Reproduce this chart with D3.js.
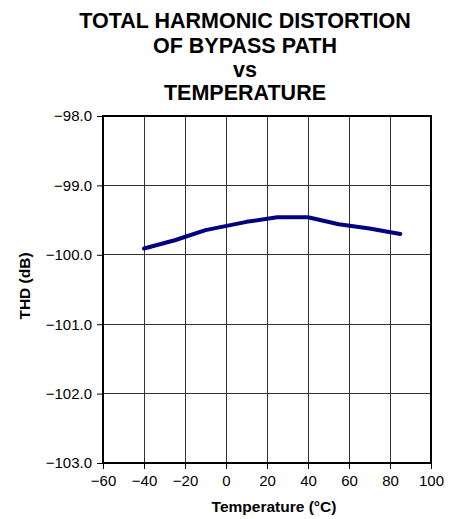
<!DOCTYPE html>
<html>
<head>
<meta charset="utf-8">
<script src="https://cdn.jsdelivr.net/npm/d3@7"></script>
<style>
  html, body { margin: 0; padding: 0; background: #fff; }
  svg { display: block; font-family: "Liberation Sans", Arial, sans-serif; }
</style>
</head>
<body>
<svg id="chart" width="454" height="519"></svg>
<script>
const titleLines = ["TOTAL HARMONIC DISTORTION", "OF BYPASS PATH", "vs", "TEMPERATURE"];
const xLabel = "Temperature (°C)";
const yLabel = "THD (dB)";
const temperature = [-40, -25, -10, 10, 25, 40, 55, 70, 85];
const thd = [-99.91, -99.79, -99.645, -99.525, -99.46, -99.46, -99.56, -99.62, -99.70];
const xTicks = [-60, -40, -20, 0, 20, 40, 60, 80, 100];
const yTicks = [-98, -99, -100, -101, -102, -103];

const fmtX = d => (d < 0 ? "\u2212" + Math.abs(d) : String(d));
const fmtY = d => "\u2212" + Math.abs(d).toFixed(1);

const svg = d3.select("#chart");
const m = { left: 103, right: 431, top: 116, bottom: 463 };

const x = d3.scaleLinear().domain([-60, 100]).range([m.left, m.right]);
const y = d3.scaleLinear().domain([-103, -98]).range([m.bottom, m.top]);

// title
svg.append("g").selectAll("text").data(titleLines).join("text")
  .attr("x", 245)
  .attr("y", (d, i) => [28, 53, 77, 100][i])
  .attr("text-anchor", "middle")
  .attr("font-weight", "bold")
  .attr("font-size", "21.5px")
  .attr("fill", "#000")
  .text(d => d);

// grid
svg.append("g").selectAll("line").data(xTicks.slice(1, -1)).join("line")
  .attr("x1", d => x(d)).attr("x2", d => x(d))
  .attr("y1", m.top).attr("y2", m.bottom)
  .attr("stroke", "#333").attr("stroke-width", 1).attr("shape-rendering", "crispEdges");
svg.append("g").selectAll("line").data(yTicks.slice(1, -1)).join("line")
  .attr("x1", m.left).attr("x2", m.right)
  .attr("y1", d => y(d)).attr("y2", d => y(d))
  .attr("stroke", "#333").attr("stroke-width", 1).attr("shape-rendering", "crispEdges");

// axes
const xAxis = svg.append("g")
  .attr("transform", `translate(0,${m.bottom})`)
  .call(d3.axisBottom(x).tickValues(xTicks).tickFormat(fmtX).tickSize(6).tickPadding(6));
const yAxis = svg.append("g")
  .attr("transform", `translate(${m.left},0)`)
  .call(d3.axisLeft(y).tickValues(yTicks).tickFormat(fmtY).tickSize(6).tickPadding(5));
[xAxis, yAxis].forEach(a => {
  a.select(".domain").remove();
  a.selectAll("line").attr("stroke", "#000");
  a.selectAll("text").attr("font-size", "15px").attr("fill", "#000")
    .attr("font-family", "'Liberation Sans', Arial, sans-serif");
});

// frame
svg.append("rect")
  .attr("x", m.left).attr("y", m.top)
  .attr("width", m.right - m.left).attr("height", m.bottom - m.top)
  .attr("fill", "none").attr("stroke", "#000").attr("stroke-width", 2);

// data line
svg.append("path")
  .datum(temperature.map((t, i) => [t, thd[i]]))
  .attr("fill", "none")
  .attr("stroke", "#000080")
  .attr("stroke-width", 4)
  .attr("stroke-linejoin", "round")
  .attr("stroke-linecap", "round")
  .attr("d", d3.line().x(d => x(d[0])).y(d => y(d[1])));

// axis titles
svg.append("text")
  .attr("x", 274).attr("y", 512)
  .attr("text-anchor", "middle")
  .attr("font-weight", "bold").attr("font-size", "15.5px")
  .text(xLabel);
svg.append("text")
  .attr("transform", "translate(30,286) rotate(-90)")
  .attr("text-anchor", "middle")
  .attr("font-weight", "bold").attr("font-size", "15.5px")
  .text(yLabel);
</script>
</body>
</html>
